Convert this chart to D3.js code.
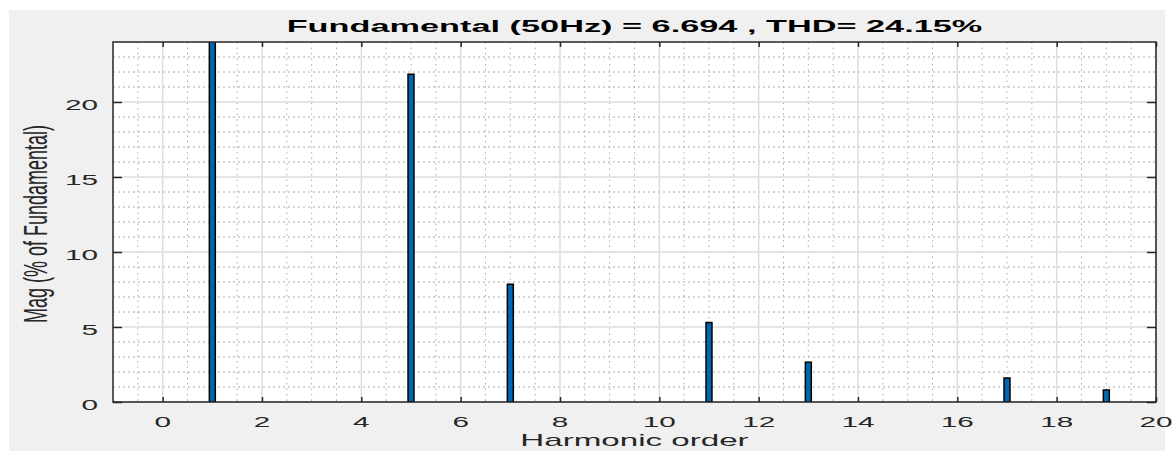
<!DOCTYPE html>
<html>
<head>
<meta charset="utf-8">
<title>Harmonic spectrum</title>
<script src="https://d3js.org/d3.v7.min.js"></script>
<style>
  html, body { margin:0; padding:0; background:#fff; }
  svg { display:block; }
  text { font-family: "Liberation Sans", Arial, Helvetica, sans-serif; fill:#262626; }
</style>
</head>
<body>
<div id="chart"></div>
<script>
// data
var harmonicOrder = [1, 5, 7, 11, 13, 17, 19];
var magnitude     = [100, 21.85, 7.85, 5.3, 2.65, 1.6, 0.8];
var xTicks = [0, 2, 4, 6, 8, 10, 12, 14, 16, 18, 20];
var yTicks = [0, 5, 10, 15, 20];
var xMinor = d3.range(-0.5, 20, 0.5);
var yMinor = d3.range(1, 24, 1);
var titleText = 'Fundamental (50Hz) = 6.694 , THD= 24.15%';
var xLabel = 'Harmonic order';
var yLabel = 'Mag (% of Fundamental)';

var W = 1172, H = 451;
var box = {left:113, top:42, right:1156, bottom:402};
var sx = 1.8; // the figure is stretched sideways

var svg = d3.select('#chart').append('svg').attr('width', W).attr('height', H);

// figure background
svg.append('rect').attr('x', 9).attr('y', 10).attr('width', 1156).attr('height', H - 10)
    .attr('fill', '#f0f0f0');

var x = d3.scaleLinear().domain([-1, 20]).range([box.left, box.right]);
var y = d3.scaleLinear().domain([0, 24]).range([box.bottom, box.top]);

svg.append('rect').attr('x', box.left).attr('y', box.top)
    .attr('width', box.right - box.left).attr('height', box.bottom - box.top)
    .attr('fill', '#fff');

svg.append('clipPath').attr('id', 'clip').append('rect')
    .attr('x', box.left).attr('y', box.top)
    .attr('width', box.right - box.left).attr('height', box.bottom - box.top);

var grid = svg.append('g');
// minor grid
grid.selectAll('.mx').data(xMinor.filter(function(d){ return d % 2 !== 0; })).enter().append('line')
    .attr('x1', x).attr('x2', x).attr('y1', box.top).attr('y2', box.bottom)
    .attr('stroke', '#aaaaaa').attr('stroke-width', 1).attr('stroke-dasharray', '1.5,4');
grid.selectAll('.my').data(yMinor.filter(function(d){ return d % 5 !== 0; })).enter().append('line')
    .attr('y1', y).attr('y2', y).attr('x1', box.left).attr('x2', box.right)
    .attr('stroke', '#aaaaaa').attr('stroke-width', 1).attr('stroke-dasharray', '2,3');
// major grid
grid.selectAll('.gx').data(xTicks).enter().append('line')
    .attr('x1', x).attr('x2', x).attr('y1', box.top).attr('y2', box.bottom)
    .attr('stroke', '#dcdcdc').attr('stroke-width', 1.5);
grid.selectAll('.gy').data(yTicks).enter().append('line')
    .attr('y1', y).attr('y2', y).attr('x1', box.left).attr('x2', box.right)
    .attr('stroke', '#dcdcdc').attr('stroke-width', 1.5);

// bars
var barW = 0.12;
svg.append('g').attr('clip-path', 'url(#clip)')
  .selectAll('rect').data(harmonicOrder).enter().append('rect')
    .attr('x', function(d){ return x(d - barW / 2); })
    .attr('width', x(barW) - x(0))
    .attr('y', function(d, i){ return y(magnitude[i]); })
    .attr('height', function(d, i){ return y(0) - y(magnitude[i]); })
    .attr('fill', '#0067b0').attr('stroke', '#000').attr('stroke-width', 1.5);

// axes (tick marks only, labels drawn below)
function styleAxis(g){
  g.select('.domain').remove();
  g.selectAll('text').remove();
  g.selectAll('line').attr('stroke', '#262626').attr('stroke-width', 1.5);
}
svg.append('g').attr('transform', 'translate(0,' + box.bottom + ')')
    .call(d3.axisBottom(x).tickValues(xTicks).tickSize(-5)).call(styleAxis);
svg.append('g').attr('transform', 'translate(0,' + box.top + ')')
    .call(d3.axisTop(x).tickValues(xTicks).tickSize(-5)).call(styleAxis);
svg.append('g').attr('transform', 'translate(' + box.left + ',0)')
    .call(d3.axisLeft(y).tickValues(yTicks).tickSize(-9)).call(styleAxis);
svg.append('g').attr('transform', 'translate(' + box.right + ',0)')
    .call(d3.axisRight(y).tickValues(yTicks).tickSize(-9)).call(styleAxis);

svg.append('rect').attr('x', box.left).attr('y', box.top)
    .attr('width', box.right - box.left).attr('height', box.bottom - box.top)
    .attr('fill', 'none').attr('stroke', '#262626').attr('stroke-width', 1.5);

// stretched text helper
function label(px, py, txt, size, anchor, opts){
  opts = opts || {};
  var t = svg.append('text')
      .attr('transform', 'translate(' + px + ',' + py + ') scale(' + (opts.sx || sx) + ',1)' + (opts.rot ? ' rotate(' + opts.rot + ')' : ''))
      .attr('text-anchor', anchor)
      .attr('font-size', size)
      .text(txt);
  if (opts.bold) t.attr('font-weight', 'bold').style('fill', '#000');
  return t;
}

xTicks.forEach(function(d){
  label(x(d), 427, d, 14.5, 'middle', {sx: 2.05});
});
yTicks.forEach(function(d){
  label(98, y(d) + 7.5, d, 14.5, 'end', {sx: 2.05});
});

label((box.left + box.right) / 2, 32, titleText, 16.5, 'middle', {bold: true, sx: 2.08});
label((box.left + box.right) / 2, 446, xLabel, 17, 'middle', {sx: 1.95});
label(47, 224, yLabel, 18, 'middle', {rot: -90, sx: 1.85});
</script>
</body>
</html>
